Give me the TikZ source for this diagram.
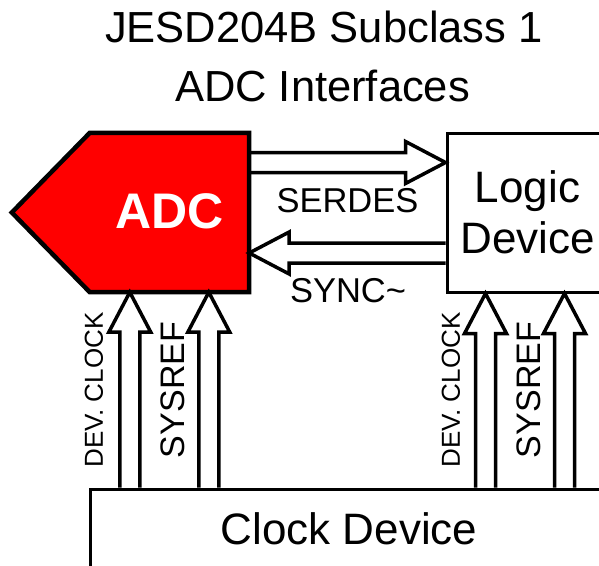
\documentclass[tikz,border=0pt]{standalone}
\usepackage{fontspec}
\setmainfont{Liberation Sans}
\usetikzlibrary{calc,backgrounds}

\begin{document}
\begin{tikzpicture}[
  x=1pt,
  y=-1pt,
  titletext/.style={
    font=\fontsize{43.5}{52}\selectfont,
    inner sep=0pt,
    anchor=base
  },
  adcbody/.style={
    minimum width=159pt,
    minimum height=159pt,
    inner sep=0pt,
    text=white,
    font=\fontsize{50}{60}\selectfont\bfseries
  },
  adcshape/.style={
    draw=black,
    fill=red,
    line width=4.5pt,
    line join=miter
  },
  devicebox/.style={
    draw=black,
    line width=3pt,
    inner sep=0pt,
    font=\fontsize{44}{51}\selectfont
  },
  arrowline/.style={
    draw=black,
    line width=3.5pt,
    line join=miter,
    miter limit=10
  },
  signallabel/.style={
    inner sep=0pt,
    font=\fontsize{34.5}{40}\selectfont
  },
  sidelabel/.style={
    inner sep=0pt,
    rotate=90
  }
]

\useasboundingbox (0,0) rectangle (599,565);
\clip (0,0) rectangle (599,565);

\newcommand{\hollowarrow}[2]{%
  \draw[arrowline] let \p1=#1, \p2=#2,
    \n1={atan2(\y2-\y1,\x2-\x1)}, \n2={veclen(\x2-\x1,\y2-\y1)} in
    {[shift={(\x1,\y1)}, rotate=\n1]
      (0,10) -- (\n2-40,10) -- (\n2-40,21) -- (\n2,0)
      -- (\n2-40,-21) -- (\n2-40,-10) -- (0,-10)};
}

% title
\node[titletext] (title-top) at (324,42) {JESD204B Subclass 1};
\node[titletext] (title-bot) at (322.5,101) {ADC Interfaces};

% devices
\node[adcbody] (adc) at (169.5,212.5) {\raisebox{3pt}{ADC}};
\begin{scope}[on background layer]
  \draw[adcshape] (adc.north west) -- (adc.north east) -- (adc.south east)
    -- (adc.south west) -- ($(adc.west)+(-78,0)$) -- cycle;
\end{scope}
\node[devicebox, minimum width=161pt, minimum height=159pt, align=center]
  (logic) at (527.5,212.5) {Logic\\Device};
\node[devicebox, minimum width=518pt, minimum height=80pt]
  (clock) at (349,529) {Clock Device};

\coordinate (serdes-in) at ($(adc.east)+(0,-50)$);
\coordinate (sync-out) at ($(adc.east)+(0,40.5)$);
\coordinate (adc-clk) at ($(adc.south west)+(40,0)$);
\coordinate (adc-sysref) at ($(adc.south west)+(119,0)$);
\coordinate (logic-clk) at ($(logic.south west)+(40,0)$);
\coordinate (logic-sysref) at ($(logic.south west)+(119,0)$);

% links
\hollowarrow{(serdes-in)}{(serdes-in -| logic.west)}
\hollowarrow{(sync-out -| logic.west)}{(sync-out)}
\hollowarrow{(adc-clk |- clock.north)}{(adc-clk)}
\hollowarrow{(adc-sysref |- clock.north)}{(adc-sysref)}
\hollowarrow{(logic-clk |- clock.north)}{(logic-clk)}
\hollowarrow{(logic-sysref |- clock.north)}{(logic-sysref)}

\node[signallabel] (serdes-lbl) at (347.5,200.5) {SERDES};
\node[signallabel] (sync-lbl) at (348,291) {SYNC\textasciitilde};

\node[sidelabel, font=\fontsize{26}{30}\selectfont] (adc-clk-lbl) at (94,390) {DEV. CLOCK};
\node[sidelabel, font=\fontsize{34}{40}\selectfont] (adc-sysref-lbl) at (172.5,390) {SYSREF};
\node[sidelabel, font=\fontsize{26}{30}\selectfont] (logic-clk-lbl) at (451,390) {DEV. CLOCK};
\node[sidelabel, font=\fontsize{34}{40}\selectfont] (logic-sysref-lbl) at (529,390) {SYSREF};

\end{tikzpicture}
\end{document}
